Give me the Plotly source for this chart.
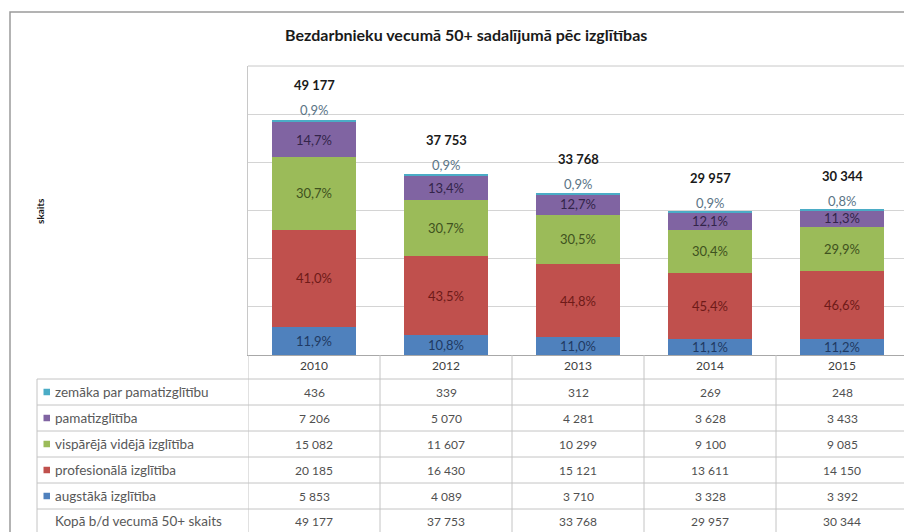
import plotly.graph_objects as go

# ---------------- data ----------------
years = ["2010", "2012", "2013", "2014", "2015"]
zemaka = [436, 339, 312, 269, 248]
pamat = [7206, 5070, 4281, 3628, 3433]
visp = [15082, 11607, 10299, 9100, 9085]
prof = [20185, 16430, 15121, 13611, 14150]
augst = [5853, 4089, 3710, 3328, 3392]
totals = [49177, 37753, 33768, 29957, 30344]

name_zemaka = "zemāka par pamatizglītību"
name_pamat = "pamatizglītība"
name_visp = "vispārējā vidējā izglītība"
name_prof = "profesionālā izglītība"
name_augst = "augstākā izglītība"
name_total = "Kopā b/d vecumā 50+ skaits"
title_text = "Bezdarbnieku vecumā 50+ sadalījumā pēc izglītības"
y_title = "skaits"

# ---------------- style ----------------
FONT = "Lato"
col = {
    "augst": "#4F81BD", "prof": "#C0504D", "visp": "#9BBB59",
    "pamat": "#8064A2", "zemaka": "#4BACC6",
}
txtcol = {
    "augst": "#1F3A63", "prof": "#6E1A18", "visp": "#3F5220",
    "pamat": "#33244A", "zemaka": "#5A7486",
}

# page has an 8px body margin: convert target page pixels to figure pixels
OFF = 8
W, H = 912, 532
L, R, T, B = 248 - OFF, 908 - OFF, 66 - OFF, 355 - OFF


def ppx(p):
    return (p - OFF - L) / (R - L)


def ppy(p):
    return (B - (p - OFF)) / (B - T)


def fmt_num(v):
    return f"{v:,}".replace(",", " ")


def fmt_pct(v, t):
    return f"{v / t * 100:.1f}".replace(".", ",") + "%"


fig = go.Figure()

stack = [
    ("augst", name_augst, augst),
    ("prof", name_prof, prof),
    ("visp", name_visp, visp),
    ("pamat", name_pamat, pamat),
    ("zemaka", name_zemaka, zemaka),
]
for key, nm, vals in stack:
    show_text = key != "zemaka"
    fig.add_trace(go.Bar(
        x=years, y=vals, name=nm,
        marker=dict(color=col[key], line=dict(width=0)),
        text=[fmt_pct(v, t) for v, t in zip(vals, totals)] if show_text else None,
        textposition="inside" if show_text else "none",
        insidetextanchor="middle",
        textangle=0,
        textfont=dict(family=FONT, size=13, color=txtcol[key]),
        hoverinfo="skip",
        showlegend=False,
    ))

annotations = []
shapes = []

# totals above bars and tiny-segment percentages (x = category index)
for i, (t, z) in enumerate(zip(totals, zemaka)):
    annotations.append(dict(
        x=i, y=t, xref="x", yref="y", text=f"<b>{fmt_num(t)}</b>",
        showarrow=False, yshift=33, yanchor="middle",
        font=dict(family=FONT, size=13, color="#1a1a1a"),
    ))
    annotations.append(dict(
        x=i, y=t, xref="x", yref="y", text=fmt_pct(z, t),
        showarrow=False, yshift=8, yanchor="middle",
        font=dict(family=FONT, size=13, color=txtcol["zemaka"]),
    ))

# title and y title
annotations.append(dict(
    x=ppx(466), y=ppy(35), xref="paper", yref="paper", text=f"<b>{title_text}</b>",
    showarrow=False, xanchor="center", yanchor="middle",
    font=dict(family=FONT, size=16, color="#1a1a1a"),
))
annotations.append(dict(
    x=ppx(40), y=ppy(211), xref="paper", yref="paper", text=f"<b>{y_title}</b>",
    showarrow=False, textangle=-90, xanchor="center", yanchor="middle",
    font=dict(family=FONT, size=10, color="#1a1a1a"),
))

# data table
row_series = [
    ("zemaka", name_zemaka, zemaka),
    ("pamat", name_pamat, pamat),
    ("visp", name_visp, visp),
    ("prof", name_prof, prof),
    ("augst", name_augst, augst),
    (None, name_total, totals),
]
row_lines = [379, 405, 431, 457, 483, 509]
row_centers = [392, 418, 444, 470, 496, 521]
line_c = "#c4c4c4"

for (key, nm, vals), cy in zip(row_series, row_centers):
    if key is not None:
        shapes.append(dict(
            type="rect", xref="paper", yref="paper",
            x0=ppx(43.5), x1=ppx(50), y0=ppy(cy - 3.25), y1=ppy(cy + 3.25),
            fillcolor=col[key], line=dict(width=0),
        ))
    annotations.append(dict(
        x=ppx(53), y=ppy(cy), xref="paper", yref="paper", text=nm,
        showarrow=False, xanchor="left", yanchor="middle",
        font=dict(family=FONT, size=13.5, color="#595959"),
    ))
    for i, v in enumerate(vals):
        annotations.append(dict(
            x=i, y=ppy(cy), xref="x", yref="paper", text=fmt_num(v),
            showarrow=False, xanchor="center", yanchor="middle",
            font=dict(family=FONT, size=12, color="#505050"),
        ))

for ly in row_lines:
    shapes.append(dict(
        type="line", xref="paper", yref="paper",
        x0=ppx(37), x1=1, y0=ppy(ly), y1=ppy(ly),
        line=dict(color=line_c, width=1),
    ))
for i in range(len(years) + 1):
    shapes.append(dict(
        type="line", xref="x", yref="paper",
        x0=i - 0.5, x1=i - 0.5, y0=0, y1=ppy(560),
        line=dict(color=line_c, width=1),
    ))
shapes.append(dict(
    type="line", xref="paper", yref="paper",
    x0=ppx(37), x1=ppx(37), y0=ppy(379), y1=ppy(560),
    line=dict(color=line_c, width=1),
))
# plot area top border
shapes.append(dict(
    type="line", xref="paper", yref="paper",
    x0=0, x1=1, y0=1, y1=1,
    line=dict(color="#c8c8c8", width=1),
))

# outer chart frame
shapes.append(dict(
    type="rect", xref="paper", yref="paper",
    x0=ppx(10), x1=ppx(940), y0=ppy(12), y1=ppy(580),
    line=dict(color="#9a9a9a", width=1.5), fillcolor="rgba(0,0,0,0)",
    layer="below",
))

fig.update_layout(
    width=W, height=H,
    margin=dict(l=L, r=W - R, t=T, b=H - B, autoexpand=False),
    barmode="stack",
    bargap=0.364,
    paper_bgcolor="white",
    plot_bgcolor="white",
    uniformtext=dict(minsize=13, mode="show"),
    font=dict(family=FONT, color="#404040"),
    annotations=annotations,
    shapes=shapes,
    xaxis=dict(
        type="category", range=[-0.5, len(years) - 0.5],
        showline=True, linecolor="#a8a8a8", linewidth=1,
        ticks="", showgrid=False,
        tickfont=dict(family=FONT, size=12, color="#404040"),
        fixedrange=True,
    ),
    yaxis=dict(
        range=[0, 60000], dtick=10000,
        showgrid=True, gridcolor="#d4d4d4", gridwidth=1,
        showticklabels=False, ticks="",
        showline=True, linecolor="#c8c8c8", linewidth=1,
        zeroline=False, fixedrange=True,
    ),
)

fig.write_html("out.html")
